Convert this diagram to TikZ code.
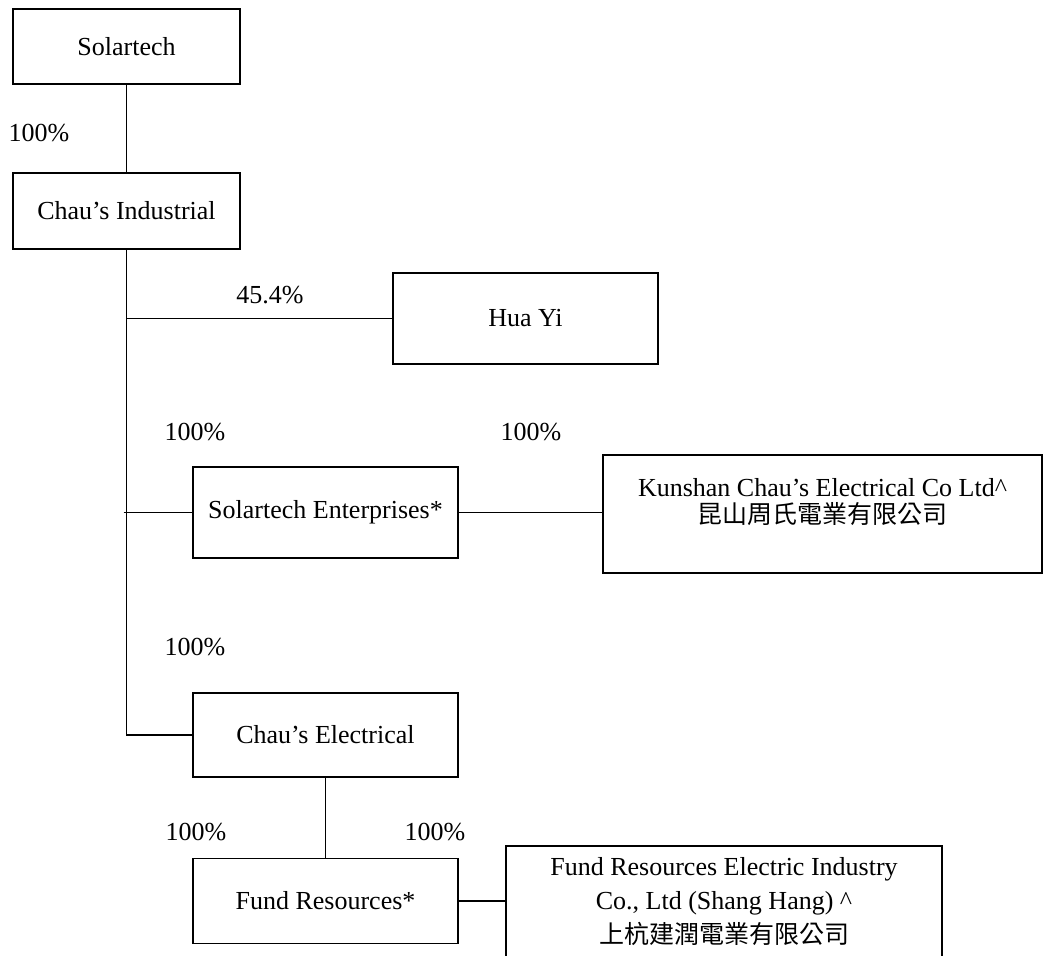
\documentclass[tikz,border=0pt]{standalone}
\usepackage{fontspec}
\setmainfont{Liberation Serif}
\newfontfamily\cjk{Noto Sans CJK TC}
\usetikzlibrary{calc}

\begin{document}
\begin{tikzpicture}[x=0.5pt,y=-0.5pt,
    box/.style={draw,line width=0.6pt,inner sep=0pt,align=center,font=\fontsize{13}{15}\selectfont},
    pct/.style={inner sep=0pt,font=\fontsize{13}{15}\selectfont},
    link/.style={line width=0.6pt}]

	\useasboundingbox (0,0) rectangle (1043,956);

	% companies
	\node[box,minimum width=113.5pt,minimum height=37.5pt] (solartech) at (126.5,46.5) {Solartech};
	\node[box,minimum width=113.5pt,minimum height=38pt] (chauind) at (126.5,211) {Chau’s Industrial};
	\node[box,minimum width=132.5pt,minimum height=45.5pt] (huayi) at (525.5,318.5) {Hua Yi};
	\node[box,minimum width=132.5pt,minimum height=45.5pt] (solent) at (325.5,512.5) {Solartech Enterprises*};
	\node[box,minimum width=219.5pt,minimum height=59pt,font=\fontsize{13}{13.5}\selectfont] (kunshan) at (822.5,514) {Kunshan Chau’s Electrical Co Ltd\textasciicircum\\{\cjk\fontsize{12.5}{13.5}\selectfont 昆山周氏電業有限公司}\\\mbox{}};
	\node[box,minimum width=132.5pt,minimum height=42pt] (chauelec) at (325.5,735) {Chau’s Electrical};
	\node[box,minimum width=132.5pt,minimum height=42.5pt] (fundres) at (325.5,901) {Fund Resources*};
	\node[box,minimum width=218pt,minimum height=56pt,font=\fontsize{13}{17}\selectfont] (fre) at (724,902) {Fund Resources Electric Industry\\Co., Ltd (Shang Hang) \textasciicircum\\{\cjk\fontsize{12.5}{17}\selectfont 上杭建潤電業有限公司}};

	% shareholdings
	\node[pct] (pctind) at (39,133) {100\%};
	\node[pct] (pcthua) at (270,295) {45.4\%};
	\node[pct] (pctsol) at (195,432) {100\%};
	\node[pct] (pctkun) at (531,432) {100\%};
	\node[pct] (pctelec) at (195,647) {100\%};
	\node[pct] (pctfund) at (196,832) {100\%};
	\node[pct] (pctfre) at (435,832) {100\%};

	% links
	\draw[link] (solartech) -- (chauind);
	\draw[link] (chauind.south) |- (chauelec.west);
	\draw[link] (chauind.south |- huayi.west) -- (huayi.west);
	\coordinate (solstub) at ($(chauind.south |- solent.west)+(-3,0)$);
	\draw[link] (solstub) -- (solent.west);
	\draw[link] (solent.east) -- (solent.east -| kunshan.west);
	\draw[link] (chauelec) -- (fundres);
	\draw[link] (fundres.east) -- (fundres.east -| fre.west);

\end{tikzpicture}
\end{document}
